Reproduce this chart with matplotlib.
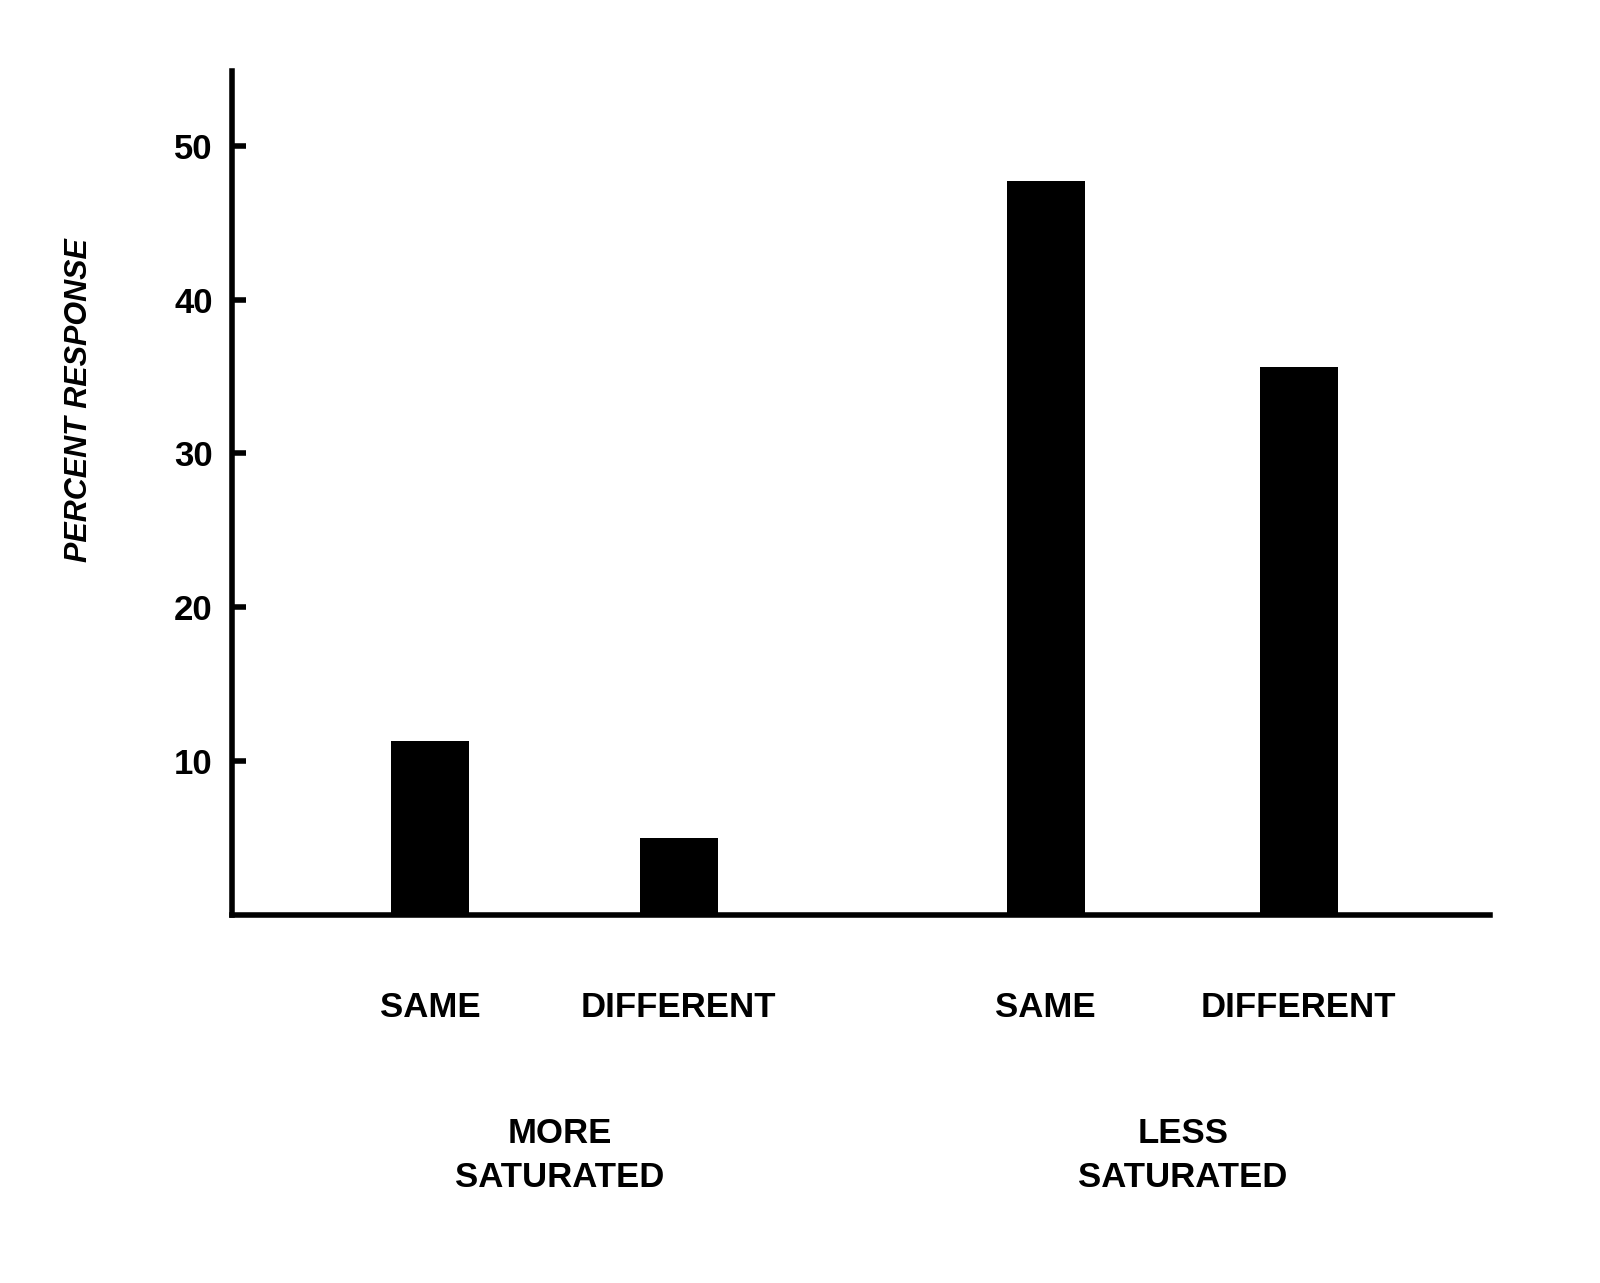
import matplotlib.pyplot as plt

# data
categories = ['SAME', 'DIFFERENT', 'SAME', 'DIFFERENT']
groups = ['MORE\nSATURATED', 'LESS\nSATURATED']
percent = [11.3, 5.0, 47.7, 35.6]
yticks = [10, 20, 30, 40, 50]

# layout
xpos = [430, 679, 1046, 1299]
group_x = [560, 1183]
bar_w = 78

plt.rcParams['font.family'] = ['Liberation Sans', 'DejaVu Sans']

fig = plt.figure(figsize=(16, 12.83), dpi=100)
ax = fig.add_axes([0.145, 0.287, 0.786, 0.658])

ax.bar(xpos, percent, width=bar_w, color='black')

ax.set_xlim(232, 1490)
ax.set_ylim(0, 54.9)

for s in ['top', 'right']:
    ax.spines[s].set_visible(False)
ax.spines['left'].set_linewidth(4)
ax.spines['bottom'].set_linewidth(4)

ax.set_yticks(yticks)
ax.set_yticklabels([str(t) for t in yticks], fontsize=25, fontweight='bold')
ax.tick_params(axis='y', direction='in', length=10, width=4, pad=14)
ax.set_xticks([])

ax.set_ylabel('PERCENT RESPONSE', fontsize=22, fontweight='bold',
              fontstyle='italic')
ax.yaxis.set_label_coords(-0.11, 0.61)

for x, c in zip(xpos, categories):
    ax.text(x, -0.11, c, transform=ax.get_xaxis_transform(),
            ha='center', va='center', fontsize=25, fontweight='bold')
for x, g in zip(group_x, groups):
    ax.text(x, -0.285, g, transform=ax.get_xaxis_transform(),
            ha='center', va='center', fontsize=25, fontweight='bold',
            linespacing=1.45)

fig.savefig('out.png', dpi=100, facecolor='white')
